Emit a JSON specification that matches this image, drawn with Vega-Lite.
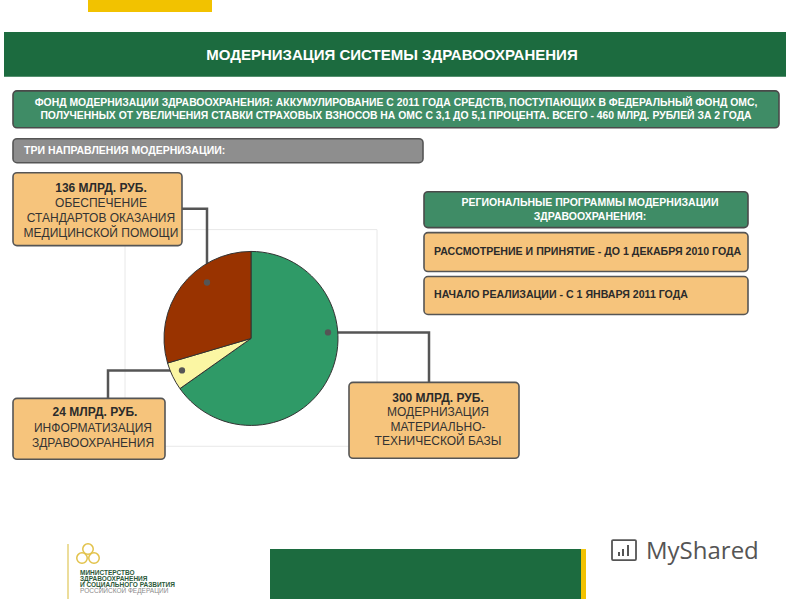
{
  "$schema": "https://vega.github.io/schema/vega-lite/v6.json",
  "width": 800,
  "height": 600,
  "autosize": {"type": "fit", "contains": "padding"},
  "padding": 0,
  "background": "white",
  "config": {"view": {"stroke": null}},
  "datasets": {
    "shares": [
      {"direction": "Модернизация материально-технической базы", "value": 300, "ord": 1},
      {"direction": "Информатизация здравоохранения", "value": 24, "ord": 2},
      {"direction": "Обеспечение стандартов оказания медицинской помощи", "value": 136, "ord": 3}
    ],
    "panels": [
      {"name": "tab", "kind": "strip", "shape": "flat", "x1": 88, "x2": 212, "y1": 0, "y2": 12},
      {"name": "header", "kind": "band", "shape": "flat", "x1": 4, "x2": 786, "y1": 32, "y2": 77},
      {"name": "fund", "kind": "fund", "shape": "box", "x1": 13, "x2": 779, "y1": 91, "y2": 128},
      {"name": "directions", "kind": "gray", "shape": "box", "x1": 13, "x2": 423, "y1": 139, "y2": 163},
      {"name": "box136", "kind": "note", "shape": "box", "x1": 13, "x2": 182, "y1": 173, "y2": 246},
      {"name": "box24", "kind": "note", "shape": "box", "x1": 13, "x2": 165, "y1": 399, "y2": 460},
      {"name": "box300", "kind": "note", "shape": "box", "x1": 349, "x2": 519, "y1": 383, "y2": 459},
      {"name": "regional", "kind": "fund", "shape": "box", "x1": 424, "x2": 748, "y1": 192, "y2": 228},
      {"name": "step1", "kind": "note", "shape": "box", "x1": 424, "x2": 748, "y1": 233, "y2": 272},
      {"name": "step2", "kind": "note", "shape": "box", "x1": 424, "x2": 748, "y1": 277, "y2": 315},
      {"name": "footer", "kind": "band", "shape": "flat", "x1": 270, "x2": 581, "y1": 550, "y2": 600},
      {"name": "footerstrip", "kind": "strip", "shape": "flat", "x1": 581, "x2": 586, "y1": 550, "y2": 600}
    ],
    "labels": [
      {"style": "title", "x": 392, "y": 55, "text": "МОДЕРНИЗАЦИЯ СИСТЕМЫ ЗДРАВООХРАНЕНИЯ"},
      {"style": "fund", "x": 396, "y": 103, "text": "ФОНД МОДЕРНИЗАЦИИ ЗДРАВООХРАНЕНИЯ: АККУМУЛИРОВАНИЕ С 2011 ГОДА СРЕДСТВ, ПОСТУПАЮЩИХ В ФЕДЕРАЛЬНЫЙ ФОНД ОМС,"},
      {"style": "fund", "x": 396, "y": 116, "text": "ПОЛУЧЕННЫХ ОТ УВЕЛИЧЕНИЯ СТАВКИ СТРАХОВЫХ ВЗНОСОВ НА ОМС С 3,1 ДО 5,1 ПРОЦЕНТА. ВСЕГО - 460 МЛРД. РУБЛЕЙ ЗА 2 ГОДА"},
      {"style": "heading", "x": 24, "y": 151, "text": "ТРИ НАПРАВЛЕНИЯ МОДЕРНИЗАЦИИ:"},
      {"style": "amount", "x": 101, "y": 188, "text": "136 МЛРД. РУБ."},
      {"style": "caption", "x": 101, "y": 203, "text": "ОБЕСПЕЧЕНИЕ"},
      {"style": "caption", "x": 101, "y": 218, "text": "СТАНДАРТОВ ОКАЗАНИЯ"},
      {"style": "caption", "x": 101, "y": 233, "text": "МЕДИЦИНСКОЙ ПОМОЩИ"},
      {"style": "amount", "x": 95, "y": 413, "text": "24 МЛРД. РУБ."},
      {"style": "caption", "x": 93, "y": 429, "text": "ИНФОРМАТИЗАЦИЯ"},
      {"style": "caption", "x": 93, "y": 444, "text": "ЗДРАВООХРАНЕНИЯ"},
      {"style": "amount", "x": 438, "y": 399, "text": "300 МЛРД. РУБ."},
      {"style": "caption", "x": 438, "y": 413, "text": "МОДЕРНИЗАЦИЯ"},
      {"style": "caption", "x": 438, "y": 428, "text": "МАТЕРИАЛЬНО-"},
      {"style": "caption", "x": 438, "y": 442, "text": "ТЕХНИЧЕСКОЙ БАЗЫ"},
      {"style": "regional", "x": 590, "y": 203, "text": "РЕГИОНАЛЬНЫЕ ПРОГРАММЫ МОДЕРНИЗАЦИИ"},
      {"style": "regional", "x": 590, "y": 217, "text": "ЗДРАВООХРАНЕНИЯ:"},
      {"style": "step", "x": 434, "y": 252, "text": "РАССМОТРЕНИЕ И ПРИНЯТИЕ - ДО 1 ДЕКАБРЯ 2010 ГОДА"},
      {"style": "step", "x": 434, "y": 295, "text": "НАЧАЛО РЕАЛИЗАЦИИ -  С 1 ЯНВАРЯ 2011 ГОДА"},
      {"style": "ministry", "x": 80, "y": 574, "text": "МИНИСТЕРСТВО"},
      {"style": "ministry", "x": 80, "y": 580, "text": "ЗДРАВООХРАНЕНИЯ"},
      {"style": "ministry", "x": 80, "y": 586, "text": "И СОЦИАЛЬНОГО РАЗВИТИЯ"},
      {"style": "federation", "x": 80, "y": 592, "text": "РОССИЙСКОЙ ФЕДЕРАЦИИ"},
      {"style": "brand", "x": 646, "y": 553, "text": "MyShared"}
    ],
    "leaders": [
      {"leader": "136", "ord": 1, "x": 182, "y": 209},
      {"leader": "136", "ord": 2, "x": 207, "y": 209},
      {"leader": "136", "ord": 3, "x": 207, "y": 283},
      {"leader": "24", "ord": 1, "x": 182, "y": 371},
      {"leader": "24", "ord": 2, "x": 108, "y": 371},
      {"leader": "24", "ord": 3, "x": 108, "y": 399},
      {"leader": "300", "ord": 1, "x": 328, "y": 333},
      {"leader": "300", "ord": 2, "x": 429, "y": 333},
      {"leader": "300", "ord": 3, "x": 429, "y": 383}
    ],
    "emblem": [
      {"x": 88, "y": 550},
      {"x": 82, "y": 559},
      {"x": 94, "y": 559}
    ]
  },
  "resolve": {"scale": {"fill": "independent", "stroke": "independent"}},
  "layer": [
    {
      "data": {"name": "panels"},
      "transform": [{"filter": "datum.shape === 'flat'"}],
      "mark": {"type": "rect"},
      "encoding": {
        "x": {"field": "x1", "type": "quantitative", "scale": {"domain": [0, 800], "nice": false, "zero": false}, "axis": null},
        "x2": {"field": "x2"},
        "y": {"field": "y1", "type": "quantitative", "scale": {"domain": [0, 600], "nice": false, "zero": false, "reverse": true}, "axis": null},
        "y2": {"field": "y2"},
        "fill": {"field": "kind", "type": "nominal", "scale": {"domain": ["band", "fund", "gray", "note", "strip"], "range": ["#1c6b3f", "#3f8c66", "#8e8e8e", "#f6c47c", "#f2c200"]}, "legend": null}
      }
    },
    {
      "data": {"values": [{"x1": 125, "x2": 377, "y1": 230, "y2": 447}]},
      "mark": {"type": "rect", "filled": false, "stroke": "#e8e8e8", "strokeWidth": 1},
      "encoding": {
        "x": {"field": "x1", "type": "quantitative", "scale": {"domain": [0, 800], "nice": false, "zero": false}, "axis": null},
        "x2": {"field": "x2"},
        "y": {"field": "y1", "type": "quantitative", "scale": {"domain": [0, 600], "nice": false, "zero": false, "reverse": true}, "axis": null},
        "y2": {"field": "y2"}
      }
    },
    {
      "data": {"name": "panels"},
      "transform": [{"filter": "datum.shape === 'box'"}],
      "mark": {"type": "rect", "cornerRadius": 4, "strokeWidth": 1.6},
      "encoding": {
        "x": {"field": "x1", "type": "quantitative", "scale": {"domain": [0, 800], "nice": false, "zero": false}, "axis": null},
        "x2": {"field": "x2"},
        "y": {"field": "y1", "type": "quantitative", "scale": {"domain": [0, 600], "nice": false, "zero": false, "reverse": true}, "axis": null},
        "y2": {"field": "y2"},
        "fill": {"field": "kind", "type": "nominal", "scale": {"domain": ["band", "fund", "gray", "note", "strip"], "range": ["#1c6b3f", "#3f8c66", "#8e8e8e", "#f6c47c", "#f2c200"]}, "legend": null},
        "stroke": {"field": "kind", "type": "nominal", "scale": {"domain": ["fund", "gray", "note"], "range": ["#4a4a4a", "#555555", "#555555"]}, "legend": null}
      }
    },
    {
      "data": {"name": "leaders"},
      "mark": {"type": "line", "color": "#555555", "strokeWidth": 2.5},
      "encoding": {
        "x": {"field": "x", "type": "quantitative", "scale": {"domain": [0, 800], "nice": false, "zero": false}, "axis": null},
        "y": {"field": "y", "type": "quantitative", "scale": {"domain": [0, 600], "nice": false, "zero": false, "reverse": true}, "axis": null},
        "detail": {"field": "leader", "type": "nominal"},
        "order": {"field": "ord", "type": "quantitative"}
      }
    },
    {
      "data": {"name": "shares"},
      "mark": {"type": "arc", "outerRadius": 87, "stroke": "#333333", "strokeWidth": 1},
      "encoding": {
        "theta": {"field": "value", "type": "quantitative", "stack": true},
        "order": {"field": "ord", "type": "quantitative"},
        "fill": {"field": "direction", "type": "nominal", "scale": {"domain": ["Модернизация материально-технической базы", "Информатизация здравоохранения", "Обеспечение стандартов оказания медицинской помощи"], "range": ["#2f9a67", "#fbf6a3", "#993300"]}, "legend": null},
        "x": {"datum": 251, "type": "quantitative", "scale": {"domain": [0, 800], "nice": false, "zero": false}, "axis": null},
        "y": {"datum": 339, "type": "quantitative", "scale": {"domain": [0, 600], "nice": false, "zero": false, "reverse": true}, "axis": null}
      }
    },
    {
      "data": {"name": "leaders"},
      "transform": [{"filter": "datum.ord === 3 && datum.leader === '136' || datum.ord === 1 && datum.leader !== '136'"}],
      "mark": {"type": "circle", "color": "#555555", "size": 40, "opacity": 1},
      "encoding": {
        "x": {"field": "x", "type": "quantitative", "scale": {"domain": [0, 800], "nice": false, "zero": false}, "axis": null},
        "y": {"field": "y", "type": "quantitative", "scale": {"domain": [0, 600], "nice": false, "zero": false, "reverse": true}, "axis": null}
      }
    },
    {
      "data": {"name": "emblem"},
      "mark": {"type": "point", "filled": false, "stroke": "#e2c24a", "strokeWidth": 1.5, "size": 110, "opacity": 1},
      "encoding": {
        "x": {"field": "x", "type": "quantitative", "scale": {"domain": [0, 800], "nice": false, "zero": false}, "axis": null},
        "y": {"field": "y", "type": "quantitative", "scale": {"domain": [0, 600], "nice": false, "zero": false, "reverse": true}, "axis": null}
      }
    },
    {
      "data": {"values": [{"x": 68, "y1": 545, "y2": 600}]},
      "mark": {"type": "rule", "color": "#e6d27a", "strokeWidth": 1.5},
      "encoding": {
        "x": {"field": "x", "type": "quantitative", "scale": {"domain": [0, 800], "nice": false, "zero": false}, "axis": null},
        "y": {"field": "y1", "type": "quantitative", "scale": {"domain": [0, 600], "nice": false, "zero": false, "reverse": true}, "axis": null},
        "y2": {"field": "y2"}
      }
    },
    {
      "data": {"values": [{"x1": 612, "x2": 636, "y1": 541, "y2": 561}]},
      "mark": {"type": "rect", "filled": false, "stroke": "#555555", "strokeWidth": 1.8, "cornerRadius": 1},
      "encoding": {
        "x": {"field": "x1", "type": "quantitative", "scale": {"domain": [0, 800], "nice": false, "zero": false}, "axis": null},
        "x2": {"field": "x2"},
        "y": {"field": "y1", "type": "quantitative", "scale": {"domain": [0, 600], "nice": false, "zero": false, "reverse": true}, "axis": null},
        "y2": {"field": "y2"}
      }
    },
    {
      "data": {"values": [{"x1": 618, "x2": 620, "y1": 553, "y2": 557}, {"x1": 622, "x2": 624, "y1": 550, "y2": 557}, {"x1": 627, "x2": 629, "y1": 546, "y2": 557}]},
      "mark": {"type": "rect", "color": "#555555"},
      "encoding": {
        "x": {"field": "x1", "type": "quantitative", "scale": {"domain": [0, 800], "nice": false, "zero": false}, "axis": null},
        "x2": {"field": "x2"},
        "y": {"field": "y1", "type": "quantitative", "scale": {"domain": [0, 600], "nice": false, "zero": false, "reverse": true}, "axis": null},
        "y2": {"field": "y2"}
      }
    },
    {
      "data": {"name": "labels"},
      "transform": [{"filter": "datum.style === 'title'"}],
      "mark": {"type": "text", "color": "white", "font": "Liberation Sans, Arial", "fontWeight": "bold", "fontSize": 15, "align": "center", "baseline": "middle"},
      "encoding": {
        "x": {"field": "x", "type": "quantitative", "scale": {"domain": [0, 800], "nice": false, "zero": false}, "axis": null},
        "y": {"field": "y", "type": "quantitative", "scale": {"domain": [0, 600], "nice": false, "zero": false, "reverse": true}, "axis": null},
        "text": {"field": "text"}
      }
    },
    {
      "data": {"name": "labels"},
      "transform": [{"filter": "datum.style === 'fund'"}],
      "mark": {"type": "text", "color": "white", "font": "Liberation Sans, Arial", "fontWeight": "bold", "fontSize": 10.4, "align": "center", "baseline": "middle"},
      "encoding": {
        "x": {"field": "x", "type": "quantitative", "scale": {"domain": [0, 800], "nice": false, "zero": false}, "axis": null},
        "y": {"field": "y", "type": "quantitative", "scale": {"domain": [0, 600], "nice": false, "zero": false, "reverse": true}, "axis": null},
        "text": {"field": "text"}
      }
    },
    {
      "data": {"name": "labels"},
      "transform": [{"filter": "datum.style === 'heading'"}],
      "mark": {"type": "text", "color": "white", "font": "Liberation Sans, Arial", "fontWeight": "bold", "fontSize": 10.5, "align": "left", "baseline": "middle"},
      "encoding": {
        "x": {"field": "x", "type": "quantitative", "scale": {"domain": [0, 800], "nice": false, "zero": false}, "axis": null},
        "y": {"field": "y", "type": "quantitative", "scale": {"domain": [0, 600], "nice": false, "zero": false, "reverse": true}, "axis": null},
        "text": {"field": "text"}
      }
    },
    {
      "data": {"name": "labels"},
      "transform": [{"filter": "datum.style === 'regional'"}],
      "mark": {"type": "text", "color": "white", "font": "Liberation Sans, Arial", "fontWeight": "bold", "fontSize": 10.5, "align": "center", "baseline": "middle"},
      "encoding": {
        "x": {"field": "x", "type": "quantitative", "scale": {"domain": [0, 800], "nice": false, "zero": false}, "axis": null},
        "y": {"field": "y", "type": "quantitative", "scale": {"domain": [0, 600], "nice": false, "zero": false, "reverse": true}, "axis": null},
        "text": {"field": "text"}
      }
    },
    {
      "data": {"name": "labels"},
      "transform": [{"filter": "datum.style === 'amount'"}],
      "mark": {"type": "text", "color": "#2b2b2b", "font": "Liberation Sans, Arial", "fontWeight": "bold", "fontSize": 12, "align": "center", "baseline": "middle"},
      "encoding": {
        "x": {"field": "x", "type": "quantitative", "scale": {"domain": [0, 800], "nice": false, "zero": false}, "axis": null},
        "y": {"field": "y", "type": "quantitative", "scale": {"domain": [0, 600], "nice": false, "zero": false, "reverse": true}, "axis": null},
        "text": {"field": "text"}
      }
    },
    {
      "data": {"name": "labels"},
      "transform": [{"filter": "datum.style === 'caption'"}],
      "mark": {"type": "text", "color": "#333333", "font": "Liberation Sans, Arial", "fontSize": 12, "align": "center", "baseline": "middle"},
      "encoding": {
        "x": {"field": "x", "type": "quantitative", "scale": {"domain": [0, 800], "nice": false, "zero": false}, "axis": null},
        "y": {"field": "y", "type": "quantitative", "scale": {"domain": [0, 600], "nice": false, "zero": false, "reverse": true}, "axis": null},
        "text": {"field": "text"}
      }
    },
    {
      "data": {"name": "labels"},
      "transform": [{"filter": "datum.style === 'step'"}],
      "mark": {"type": "text", "color": "#2b2b2b", "font": "Liberation Sans, Arial", "fontWeight": "bold", "fontSize": 10.6, "align": "left", "baseline": "middle"},
      "encoding": {
        "x": {"field": "x", "type": "quantitative", "scale": {"domain": [0, 800], "nice": false, "zero": false}, "axis": null},
        "y": {"field": "y", "type": "quantitative", "scale": {"domain": [0, 600], "nice": false, "zero": false, "reverse": true}, "axis": null},
        "text": {"field": "text"}
      }
    },
    {
      "data": {"name": "labels"},
      "transform": [{"filter": "datum.style === 'ministry'"}],
      "mark": {"type": "text", "color": "#2d5a3a", "font": "Liberation Sans, Arial", "fontWeight": "bold", "fontSize": 6.5, "align": "left", "baseline": "middle"},
      "encoding": {
        "x": {"field": "x", "type": "quantitative", "scale": {"domain": [0, 800], "nice": false, "zero": false}, "axis": null},
        "y": {"field": "y", "type": "quantitative", "scale": {"domain": [0, 600], "nice": false, "zero": false, "reverse": true}, "axis": null},
        "text": {"field": "text"}
      }
    },
    {
      "data": {"name": "labels"},
      "transform": [{"filter": "datum.style === 'federation'"}],
      "mark": {"type": "text", "color": "#8a8a8a", "font": "Liberation Sans, Arial", "fontSize": 6.5, "align": "left", "baseline": "middle"},
      "encoding": {
        "x": {"field": "x", "type": "quantitative", "scale": {"domain": [0, 800], "nice": false, "zero": false}, "axis": null},
        "y": {"field": "y", "type": "quantitative", "scale": {"domain": [0, 600], "nice": false, "zero": false, "reverse": true}, "axis": null},
        "text": {"field": "text"}
      }
    },
    {
      "data": {"name": "labels"},
      "transform": [{"filter": "datum.style === 'brand'"}],
      "mark": {"type": "text", "color": "#555555", "font": "Open Sans", "fontSize": 24, "align": "left", "baseline": "middle"},
      "encoding": {
        "x": {"field": "x", "type": "quantitative", "scale": {"domain": [0, 800], "nice": false, "zero": false}, "axis": null},
        "y": {"field": "y", "type": "quantitative", "scale": {"domain": [0, 600], "nice": false, "zero": false, "reverse": true}, "axis": null},
        "text": {"field": "text"}
      }
    }
  ]
}
